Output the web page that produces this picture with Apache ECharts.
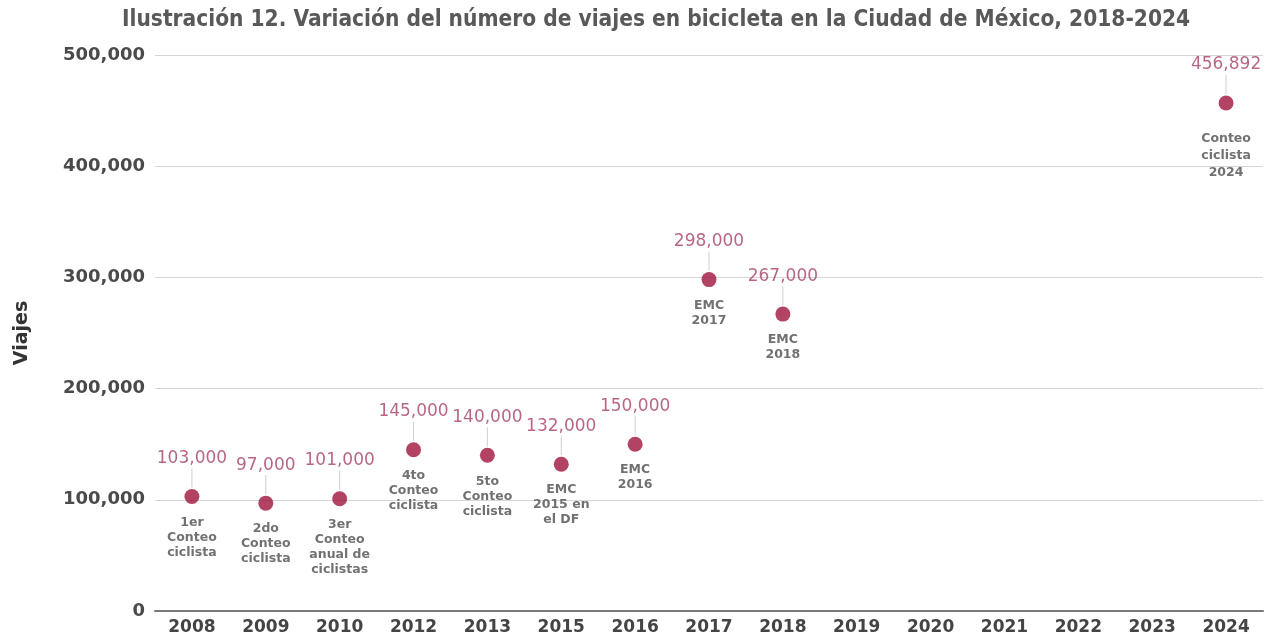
<!DOCTYPE html>
<html>
<head>
<meta charset="utf-8">
<script src="https://cdn.jsdelivr.net/npm/echarts@6/dist/echarts.min.js"></script>
<style>
  html, body { margin: 0; padding: 0; background: #fff; }
  #chart { width: 1270px; height: 637px; }
</style>
</head>
<body>
<div id="chart"></div>
<script>
// años del eje x
const years = ['2008', '2009', '2010', '2012', '2013', '2015', '2016', '2017', '2018', '2019', '2020', '2021', '2022', '2023', '2024'];
// viajes en bicicleta (null = sin dato)
const trips = [103000, 97000, 101000, 145000, 140000, 132000, 150000, 298000, 267000, null, null, null, null, null, 456892];
// fuente de cada dato
const sources = [
  '1er\nConteo\nciclista',
  '2do\nConteo\nciclista',
  '3er\nConteo\nanual de\nciclistas',
  '4to\nConteo\nciclista',
  '5to\nConteo\nciclista',
  'EMC\n2015 en\nel DF',
  'EMC\n2016',
  'EMC\n2017',
  'EMC\n2018',
  '', '', '', '', '',
  'Conteo\nciclista\n2024'
];
const yTicks = [0, 100000, 200000, 300000, 400000, 500000];

const fmt = v => Number(v).toLocaleString('en-US');
const pointData = trips.map(v => (v == null ? '-' : v));

// la etiqueta de 2024 va un poco más abajo
const sourceData = pointData.map((v, i) => {
  if (i === years.length - 1) {
    return { value: v, label: { distance: 20, lineHeight: 17 } };
  }
  return v;
});

const chart = echarts.init(document.getElementById('chart'));

const option = {
  backgroundColor: '#fff',
  animation: false,
  title: {
    text: 'Ilustración 12. Variación del número de viajes en bicicleta en la Ciudad de México, 2018-2024',
    left: 117,
    top: 4,
    textStyle: {
      fontFamily: 'DejaVu Sans Condensed',
      fontWeight: 'bold',
      fontSize: 22.5,
      color: '#595959'
    }
  },
  grid: {
    left: 155,
    right: 7,
    top: 55,
    bottom: 26
  },
  xAxis: {
    type: 'category',
    data: years,
    axisLine: { lineStyle: { color: '#7a7a7a', width: 2 } },
    axisTick: { show: false },
    axisLabel: {
      margin: 8,
      fontFamily: 'DejaVu Sans',
      fontWeight: 'bold',
      fontSize: 17,
      color: '#444'
    }
  },
  yAxis: {
    type: 'value',
    min: yTicks[0],
    max: yTicks[yTicks.length - 1],
    interval: yTicks[1] - yTicks[0],
    name: 'Viajes',
    nameLocation: 'middle',
    nameGap: 123,
    nameTextStyle: {
      fontFamily: 'DejaVu Sans',
      fontWeight: 'bold',
      fontSize: 19,
      color: '#333'
    },
    axisLine: { show: false },
    axisTick: { show: false },
    axisLabel: {
      margin: 10,
      formatter: v => fmt(v),
      fontFamily: 'DejaVu Sans',
      fontWeight: 'bold',
      fontSize: 18,
      color: '#4a4a4a'
    },
    splitLine: { lineStyle: { color: '#d6d6d6', width: 1 } }
  },
  series: [
    {
      // líneas guía entre punto y etiqueta
      type: 'custom',
      silent: true,
      z: 1,
      data: trips.map((v, i) => [i, v]).filter(d => d[1] != null),
      renderItem: (params, api) => {
        const p = api.coord([api.value(0), api.value(1)]);
        return {
          type: 'line',
          shape: { x1: p[0], y1: p[1] - 9, x2: p[0], y2: p[1] - 28 },
          style: { stroke: '#cfcfcf', lineWidth: 1 }
        };
      }
    },
    {
      type: 'scatter',
      z: 3,
      data: pointData,
      symbolSize: 15,
      itemStyle: { color: '#a0143c' },
      label: {
        show: true,
        position: 'top',
        distance: 22,
        formatter: p => fmt(p.value),
        fontFamily: 'DejaVu Sans',
        fontSize: 17,
        color: '#a63f68'
      }
    },
    {
      type: 'scatter',
      z: 2,
      silent: true,
      symbolSize: 15,
      itemStyle: { color: 'rgba(0,0,0,0)' },
      data: sourceData,
      label: {
        show: true,
        position: 'bottom',
        distance: 11,
        formatter: p => sources[p.dataIndex],
        fontFamily: 'DejaVu Sans',
        fontWeight: 'bold',
        fontSize: 12.5,
        lineHeight: 15,
        color: '#4d4d4d',
        align: 'center'
      }
    }
  ]
};

chart.setOption(option);
</script>
</body>
</html>
